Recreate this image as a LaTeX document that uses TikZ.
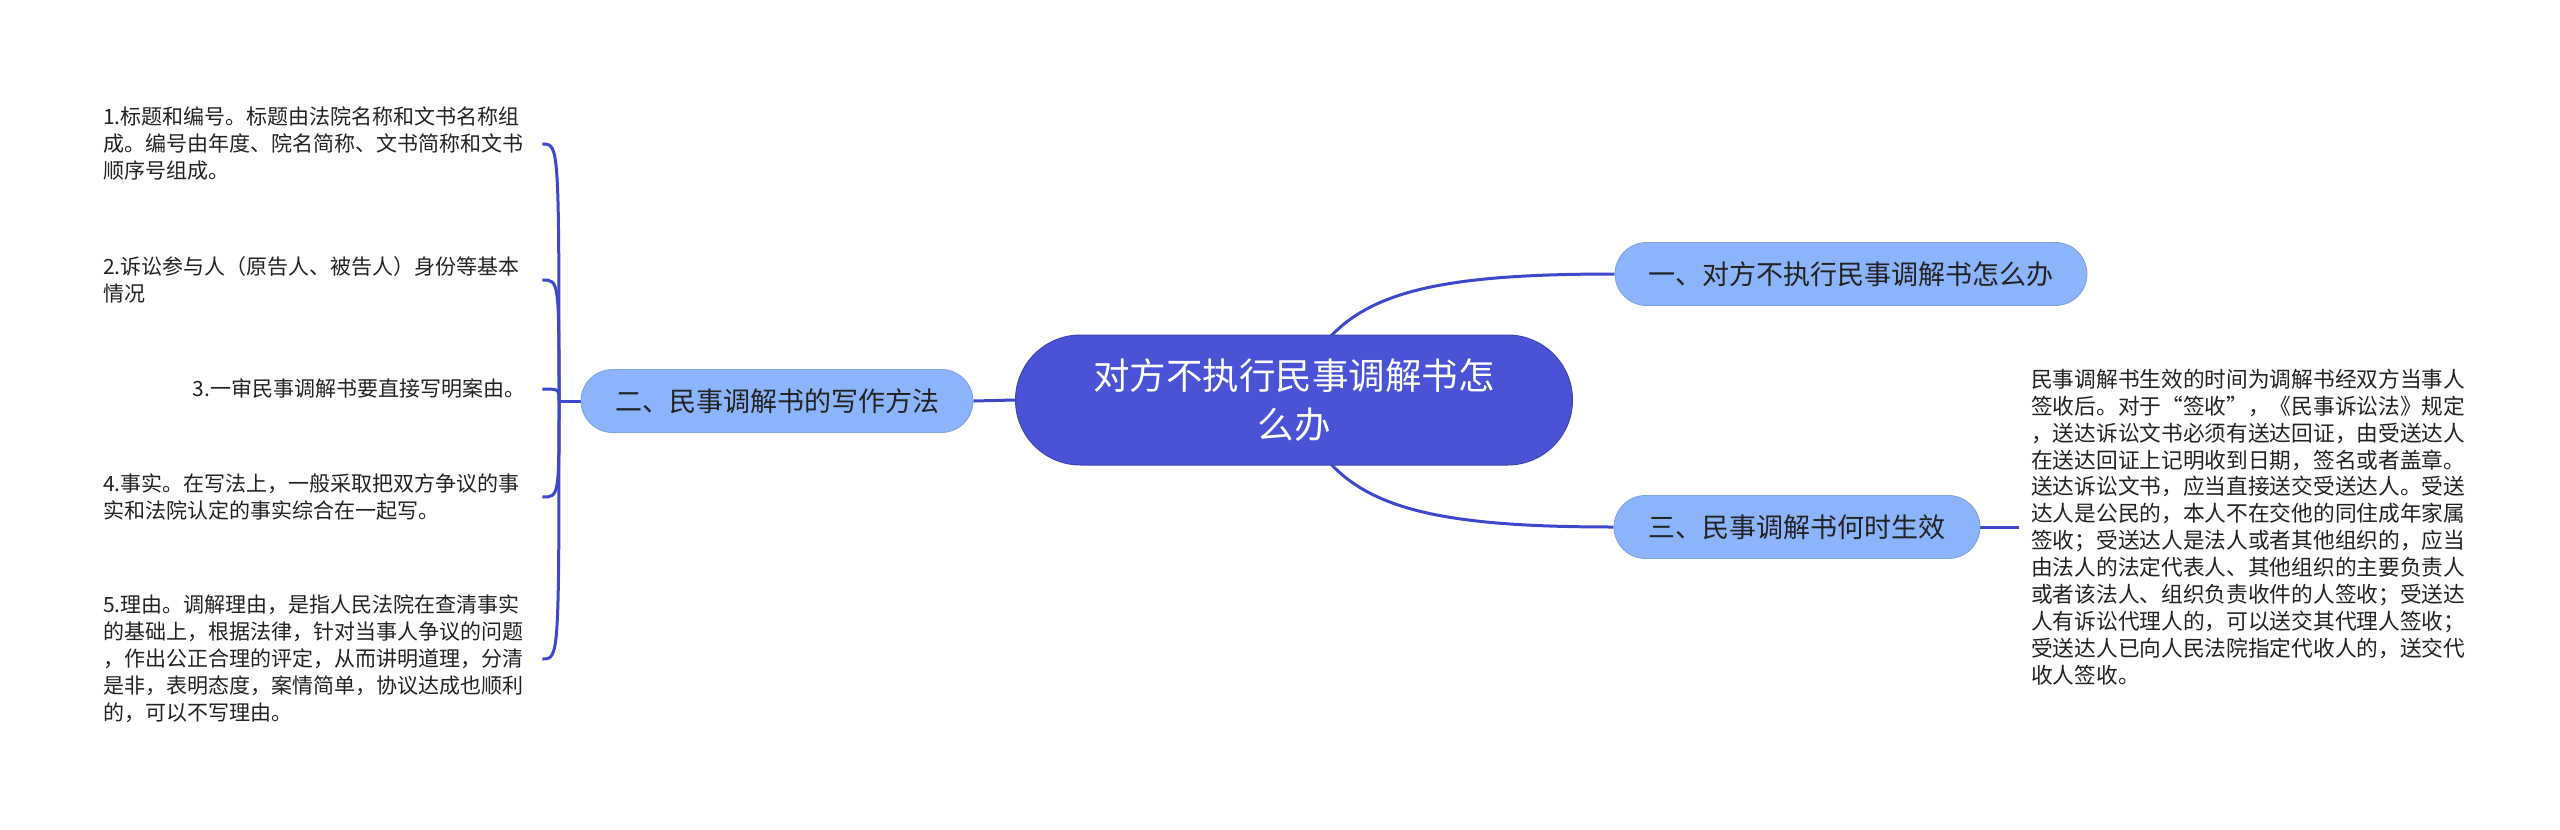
\documentclass[tikz,border=0pt]{standalone}
\usepackage{fontspec}
\newfontfamily\cjk{Noto Sans CJK SC}
\usetikzlibrary{backgrounds}
\definecolor{linkc}{RGB}{62,72,204}
\definecolor{centc}{RGB}{74,82,214}
\definecolor{brc}{RGB}{140,180,250}
\definecolor{txt}{RGB}{34,34,34}
\begin{document}
\begin{tikzpicture}[x=1pt,y=-1pt,
  central/.style={rounded corners=65pt, fill=centc, draw=centc!85!black, line width=1pt, minimum width=557pt, minimum height=130pt, align=center, text=white, font=\cjk\fontsize{36.5}{49}\selectfont, inner sep=0pt},
  branch/.style={rounded corners=31.5pt, fill=brc, draw=brc!90!black, line width=0.8pt, minimum height=63pt, inner sep=0pt, text=txt, font=\cjk\fontsize{27}{32}\selectfont},
  leaf/.style={inner sep=0pt, text=txt, font=\cjk\fontsize{21}{27}\selectfont, text width=422pt, anchor=west},
  link/.style={draw=linkc, line width=3pt}]
\useasboundingbox (0,0) rectangle (2560,830);

\node[central] (c) at (1294,400) {对方不执行民事调解书怎\\么办};
\node[branch, minimum width=472pt] (b1) at (1851,274) {一、对方不执行民事调解书怎么办};
\node[branch, minimum width=392pt] (b2) at (777,401) {二、民事调解书的写作方法};
\node[branch, minimum width=366pt] (b3) at (1797,527) {三、民事调解书何时生效};

\node[leaf, align=left] (l1) at (103,144) {1.标题和编号。标题由法院名称和文书名称组\\成。编号由年度、院名简称、文书简称和文书\\顺序号组成。};
\node[leaf, align=left] (l2) at (103,280) {2.诉讼参与人（原告人、被告人）身份等基本\\情况};
\node[leaf, align=right] (l3) at (103,389) {3.一审民事调解书要直接写明案由。};
\node[leaf, align=left] (l4) at (103,497) {4.事实。在写法上，一般采取把双方争议的事\\实和法院认定的事实综合在一起写。};
\node[leaf, align=left] (l5) at (103,659) {5.理由。调解理由，是指人民法院在查清事实\\的基础上，根据法律，针对当事人争议的问题\\，作出公正合理的评定，从而讲明道理，分清\\是非，表明态度，案情简单，协议达成也顺利\\的，可以不写理由。};

\node[leaf, text width=438pt, font=\cjk\fontsize{21.7}{26.9}\selectfont, align=left] (r) at (2031,527) {民事调解书生效的时间为调解书经双方当事人\\签收后。对于“签收”，《民事诉讼法》规定\\，送达诉讼文书必须有送达回证，由受送达人\\在送达回证上记明收到日期，签名或者盖章。\\送达诉讼文书，应当直接送交受送达人。受送\\达人是公民的，本人不在交他的同住成年家属\\签收；受送达人是法人或者其他组织的，应当\\由法人的法定代表人、其他组织的主要负责人\\或者该法人、组织负责收件的人签收；受送达\\人有诉讼代理人的，可以送交其代理人签收；\\受送达人已向人民法院指定代收人的，送交代\\收人签收。};

\begin{scope}[on background layer]
  \draw[link] (c.west) -- (b2.east);
  \draw[link] (c.center) .. controls (1330,300) and (1400,274) .. (b1.west);
  \draw[link] (c.center) .. controls (1330,500) and (1400,527) .. (b3.west);
  \path ([xshift=-12pt]r.west) coordinate (rin);
  \draw[link] (b3.east) -- (rin);
  \coordinate (j) at (559,401);
  \draw[link] (b2.west) -- (j);
  \foreach \n in {l1,l2,l3,l4,l5} {
    \path ([xshift=17pt]\n.east) coordinate (e\n);
    \draw[link] (j) .. controls (j |- e\n) .. (e\n);
  }
\end{scope}
\end{tikzpicture}
\end{document}
